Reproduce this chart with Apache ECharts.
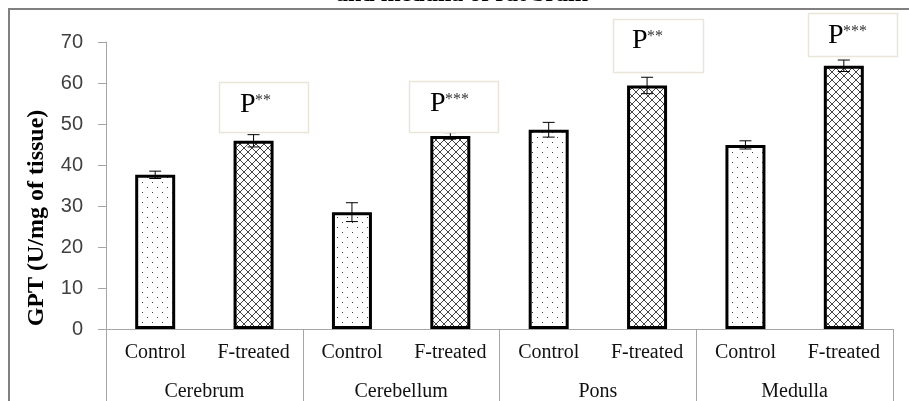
<!DOCTYPE html>
<html>
<head>
<meta charset="utf-8">
<script src="https://cdn.jsdelivr.net/npm/echarts@6/dist/echarts.min.js"></script>
<style>
html,body{margin:0;padding:0;background:#fff;}
#c{width:909px;height:401px;}
</style>
</head>
<body>
<div id="c"></div>
<script>
// ---- data ----
const groups = ['Cerebrum', 'Cerebellum', 'Pons', 'Medulla'];
const treatments = ['Control', 'F-treated'];
const controlMean = [37.6, 28.5, 48.6, 44.9];
const controlErr  = [0.9, 2.3, 1.8, 1.0];
const treatedMean = [45.9, 47.1, 59.4, 64.2];
const treatedErr  = [1.5, 0.8, 2.0, 1.4];
const yTicks = [0, 10, 20, 30, 40, 50, 60, 70];
const significance = ['**', '***', '**', '***'];
const yTitle = 'GPT (U/mg of tissue)';
const chartTitle = 'and medulla of rat brain';

// ---- patterns ----
function dotPattern() {
  const c = document.createElement('canvas');
  c.width = 10; c.height = 10;
  const g = c.getContext('2d');
  g.fillStyle = '#fff'; g.fillRect(0, 0, 10, 10);
  g.fillStyle = '#3a3a3a';
  g.fillRect(2, 2, 1, 1);
  g.fillRect(7, 7, 1, 1);
  return c;
}
function crossPattern() {
  const s = 8;
  const c = document.createElement('canvas');
  c.width = s; c.height = s;
  const g = c.getContext('2d');
  g.fillStyle = '#fff'; g.fillRect(0, 0, s, s);
  g.strokeStyle = '#444'; g.lineWidth = 1;
  g.beginPath();
  g.moveTo(-1, -1); g.lineTo(s + 1, s + 1);
  g.moveTo(-1, s + 1); g.lineTo(s + 1, -1);
  g.stroke();
  return c;
}
const dotFill = { image: dotPattern(), repeat: 'repeat' };
const crossFill = { image: crossPattern(), repeat: 'repeat' };

// ---- build ----
const barCats = [];
const barData = [];
const errData = [];
groups.forEach((gname, i) => {
  barCats.push(treatments[0]);
  barData.push({ value: controlMean[i], itemStyle: { color: dotFill } });
  errData.push([barCats.length - 1, controlMean[i], controlErr[i]]);
  barCats.push(treatments[1]);
  barData.push({ value: treatedMean[i], itemStyle: { color: crossFill } });
  errData.push([barCats.length - 1, treatedMean[i], treatedErr[i]]);
});

const serif = 'Liberation Serif';
const axisGray = '#a6a6a6';

// annotation boxes (layout)
const boxes = [
  { x: 219, y: 82, w: 89, h: 50, px: 240, py: 96 },
  { x: 409, y: 81, w: 89, h: 51, px: 430, py: 95 },
  { x: 613, y: 19, w: 90, h: 53, px: 632, py: 32 },
  { x: 808, y: 13, w: 89, h: 43, px: 828, py: 27 }
];
const graphics = [
  { type: 'line', shape: { x1: 8, y1: 9, x2: 909, y2: 9 }, style: { stroke: '#808080', lineWidth: 2 }, silent: true },
  { type: 'line', shape: { x1: 9, y1: 9, x2: 9, y2: 401 }, style: { stroke: '#808080', lineWidth: 2 }, silent: true },
  { type: 'text', x: 462, y: 7, style: { text: chartTitle, font: 'bold 24px "Liberation Serif"', fill: '#000', align: 'center', verticalAlign: 'bottom' } },
  { type: 'text', x: 37, y: 218, rotation: Math.PI / 2, style: { text: yTitle, font: 'bold 24px "Liberation Serif"', fill: '#000', align: 'center', verticalAlign: 'middle' } }
];
boxes.forEach((b, i) => {
  graphics.push({ type: 'rect', shape: { x: b.x + 0.5, y: b.y + 0.5, width: b.w, height: b.h }, style: { fill: '#fff', stroke: '#e9e5d9', lineWidth: 1.5 }, z: 10 });
  graphics.push({ type: 'text', x: b.px, y: b.py - 5, style: { text: 'P', font: '28px "Liberation Serif"', fill: '#000', align: 'left', verticalAlign: 'top' }, z: 11 });
  graphics.push({ type: 'text', x: b.px + 15, y: b.py - 3, style: { text: significance[i], font: '16px "Liberation Serif"', fill: '#333', align: 'left', verticalAlign: 'top' }, z: 11 });
});

const chart = echarts.init(document.getElementById('c'), null, { renderer: 'canvas' });
chart.setOption({
  animation: false,
  backgroundColor: '#fff',
  grid: { left: 106, right: 16, top: 42, bottom: 72, containLabel: false, outerBoundsMode: 'none' },
  xAxis: [
    {
      type: 'category', data: barCats, position: 'bottom',
      axisLine: { show: false }, axisTick: { show: false },
      axisLabel: { interval: 0, margin: 14, fontFamily: serif, fontSize: 20, color: '#111' }
    },
    {
      type: 'category', data: groups, position: 'bottom',
      axisLine: { show: true, lineStyle: { color: axisGray, width: 1 } },
      axisTick: { show: true, interval: 0, length: 72, alignWithLabel: false, lineStyle: { color: axisGray, width: 1 } },
      axisLabel: { interval: 0, margin: 53, fontFamily: serif, fontSize: 20, color: '#111' }
    }
  ],
  yAxis: {
    type: 'value', min: yTicks[0], max: yTicks[yTicks.length - 1], interval: yTicks[1] - yTicks[0],
    axisLine: { show: true, lineStyle: { color: axisGray, width: 1 } },
    axisTick: { show: true, length: 8, lineStyle: { color: axisGray, width: 1 } },
    splitLine: { show: false },
    axisLabel: { margin: 23, fontFamily: 'Liberation Sans', fontSize: 20, color: '#404040' }
  },
  series: [
    {
      type: 'bar', xAxisIndex: 0, data: barData, barWidth: 40,
      itemStyle: { borderColor: '#000', borderWidth: 3 },
      z: 2
    },
    {
      type: 'custom', xAxisIndex: 0, data: errData, z: 5,
      renderItem: function (params, api) {
        const i = api.value(0), m = api.value(1), e = api.value(2);
        const top = api.coord([i, m + e]);
        const bot = api.coord([i, m - e]);
        const cw = 6;
        const st = { stroke: '#000', lineWidth: 1 };
        return {
          type: 'group',
          children: [
            { type: 'line', shape: { x1: top[0], y1: top[1], x2: bot[0], y2: bot[1] }, style: st },
            { type: 'line', shape: { x1: top[0] - cw, y1: top[1], x2: top[0] + cw, y2: top[1] }, style: st },
            { type: 'line', shape: { x1: bot[0] - cw, y1: bot[1], x2: bot[0] + cw, y2: bot[1] }, style: st }
          ]
        };
      }
    }
  ],
  graphic: graphics
});
</script>
</body>
</html>
